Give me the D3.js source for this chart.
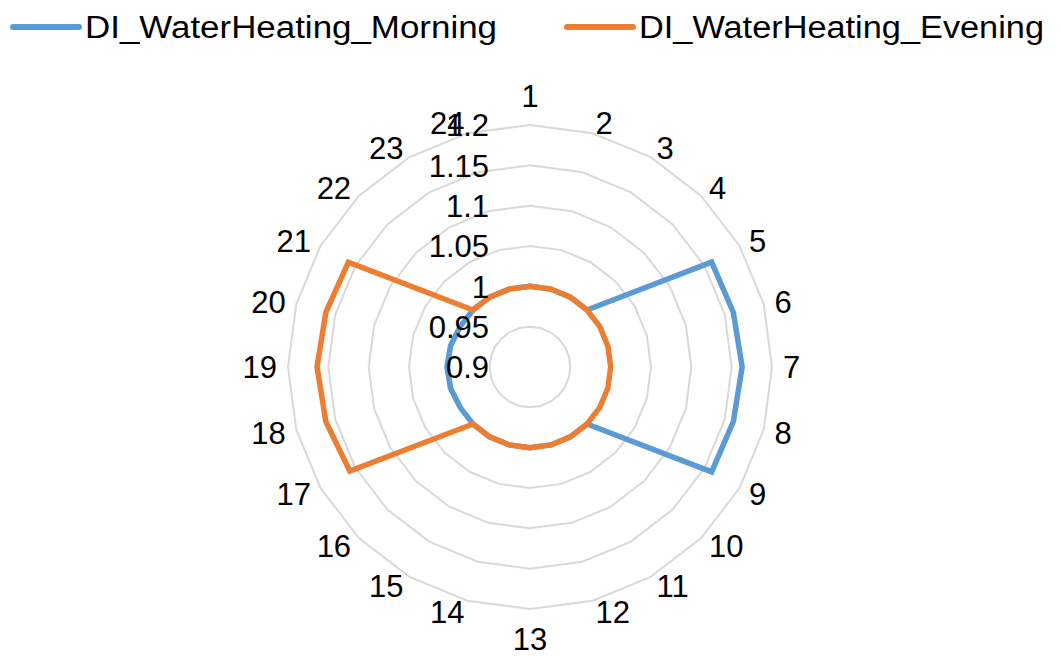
<!DOCTYPE html>
<html>
<head>
<meta charset="utf-8">
<script src="https://cdn.jsdelivr.net/npm/d3@7"></script>
<style>
    body { margin: 0; background: #fff; }
    text { font-family: "Liberation Sans", Arial, sans-serif; fill: #000; }
</style>
</head>
<body>
<div id="chart-area"></div>
<script>

const categories = ['1', '2', '3', '4', '5', '6', '7', '8', '9', '10', '11', '12',
    '13', '14', '15', '16', '17', '18', '19', '20', '21', '22', '23', '24']

const morning = [1.0, 1.0, 1.0, 1.0, 1.16, 1.161, 1.163, 1.161, 1.16, 1.0, 1.0, 1.0,
    1.0, 1.0, 1.0, 1.0, 1.0, 1.002, 1.003, 1.002, 1.0, 1.0, 1.0, 1.0]

const evening = [1.0, 1.0, 1.0, 1.0, 1.0, 1.0, 1.0, 1.0, 1.0, 1.0, 1.0, 1.0,
    1.0, 1.0, 1.0, 1.0, 1.158, 1.162, 1.164, 1.162, 1.16, 1.0, 1.0, 1.0]

const ticks = [0.9, 0.95, 1, 1.05, 1.1, 1.15, 1.2]

const seriesNames = ['DI_WaterHeating_Morning', 'DI_WaterHeating_Evening']
const colors = ['#5b9bd5', '#ed7d31']

const totalWidth = 1060
const totalHeight = 657
const CX = 530
const CY = 367
const RADIUS = 242
const FONT = 31

const svg = d3.select("#chart-area")
    .append("svg")
    .attr("width", totalWidth)
    .attr("height", totalHeight)

const g = svg.append("g")
    .attr("transform", `translate(${CX}, ${CY})`)

const rScale = d3.scaleLinear()
    .domain([ticks[0], ticks[ticks.length - 1]])
    .range([0, RADIUS])

const angle = i => i * 2 * Math.PI / categories.length

const radarLine = d3.lineRadial()
    .angle((d, i) => angle(i))
    .radius(d => rScale(d))
    .curve(d3.curveLinearClosed)

// grid rings (polygons like excel)
g.selectAll(".ring")
    .data(ticks.slice(1))
    .enter()
    .append("path")
    .attr("class", "ring")
    .attr("fill", "none")
    .attr("stroke", "#d9d9d9")
    .attr("stroke-width", 2)
    .attr("d", t => radarLine(categories.map(() => t)))

// series
const series = [morning, evening]
series.forEach((values, k) => {
    g.append("path")
        .attr("fill", "none")
        .attr("stroke", colors[k])
        .attr("stroke-width", 5.5)
        .attr("stroke-linejoin", "miter")
        .attr("d", radarLine(values))
})

// radial tick labels
g.selectAll(".tick-label")
    .data(ticks)
    .enter()
    .append("text")
    .attr("class", "tick-label")
    .attr("x", -41)
    .attr("y", t => -rScale(t))
    .attr("dy", "0.36em")
    .attr("text-anchor", "end")
    .attr("font-size", FONT + "px")
    .text(t => String(t))

// category labels: box edge sits on the anchor circle
const R0 = 253
const HALF_H = 18.5
g.selectAll(".cat-label")
    .data(categories)
    .enter()
    .append("text")
    .attr("class", "cat-label")
    .attr("text-anchor", "middle")
    .attr("dy", "0.36em")
    .attr("font-size", FONT + "px")
    .text(d => d)
    .each(function (d, i) {
        const w = this.getComputedTextLength()
        const a = angle(i)
        const sx = Math.sin(a)
        const sy = -Math.cos(a)
        let x = sx * R0
        let y = sy * R0
        if (Math.abs(sx) < 0.01) {
            y += Math.sign(sy) * HALF_H
        } else {
            x += Math.sign(sx) * w / 2
        }
        d3.select(this).attr("x", x).attr("y", y)
    })

// legend
const legendX = [13, 567]
const legendTextLen = [412, 405]
const legend = svg.append("g")

seriesNames.forEach((name, k) => {
    legend.append("line")
        .attr("x1", legendX[k])
        .attr("x2", legendX[k] + 66)
        .attr("y1", 27)
        .attr("y2", 27)
        .attr("stroke", colors[k])
        .attr("stroke-width", 6)
        .attr("stroke-linecap", "round")

    legend.append("text")
        .attr("x", legendX[k] + 72)
        .attr("y", 38)
        .attr("font-size", FONT + "px")
        .attr("textLength", legendTextLen[k])
        .attr("lengthAdjust", "spacingAndGlyphs")
        .text(name)
})

</script>
</body>
</html>
